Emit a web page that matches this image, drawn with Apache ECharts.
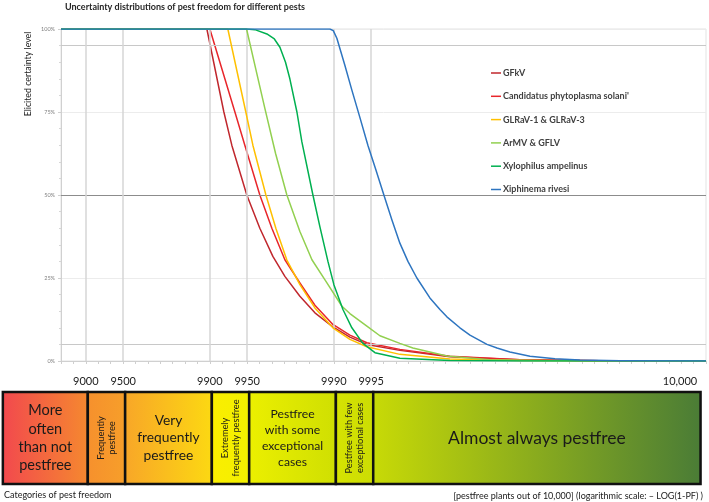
<!DOCTYPE html>
<html>
<head>
<meta charset="utf-8">
<script src="https://cdn.jsdelivr.net/npm/echarts@6/dist/echarts.min.js"></script>
<style>
html,body{margin:0;padding:0;background:#fff;}
#main{width:709px;height:502px;}
</style>
</head>
<body>
<div id="main"></div>
<script>
// x = -LOG10(1-PF), y = elicited certainty level (%)
var seriesNames = ['GFkV', "Candidatus phytoplasma solani'", 'GLRaV-1 & GLRaV-3', 'ArMV & GFLV', 'Xylophilus ampelinus', 'Xiphinema rivesi'];
var seriesColors = ['#c0272d', '#e8262b', '#ffc000', '#92d050', '#00b050', '#2e75c0'];

var gfkv = [[0.8,100],[1.976,100],[2.113,75],[2.177,65],[2.298,50],[2.403,40],[2.508,31.5],[2.605,25.5],[2.726,19.5],[2.847,14.5],[2.992,10.3],[3.129,7.2],[3.266,5],[3.532,3.2],[3.935,1.3],[4.5,0.4],[5.145,0.1],[6,0]];
var candidatus = [[0.8,100],[2.0,100],[2.202,75],[2.282,65],[2.403,50],[2.5,40],[2.605,30.5],[2.726,23.5],[2.847,16.8],[2.992,11],[3.129,7.8],[3.266,5.5],[3.532,3.5],[3.935,1.4],[4.5,0.4],[5.145,0.1],[6,0]];
var glrav = [[0.8,100],[2.145,100],[2.29,75],[2.347,65],[2.452,50],[2.532,40],[2.621,30.4],[2.726,23],[2.847,16],[2.992,10],[3.129,6.5],[3.266,4.3],[3.532,2],[3.935,0.6],[4.5,0.15],[5.145,0.05],[6,0]];
var armv = [[0.8,100],[2.296,100],[2.37,88],[2.444,76],[2.53,62.5],[2.621,50],[2.726,39],[2.823,30.5],[2.927,24.5],[3.065,16.5],[3.129,14.3],[3.266,10.5],[3.371,7.6],[3.532,5.3],[3.637,3.9],[3.911,1.5],[4.258,0.4],[4.782,0.1],[6,0]];
var xylophilus = [[0.8,100],[2.298,100],[2.363,99.8],[2.46,98.5],[2.52,97],[2.565,94.5],[2.61,90],[2.645,85],[2.702,75],[2.742,66],[2.831,50],[2.887,40.5],[2.952,30],[3.0,23],[3.073,15.5],[3.145,10],[3.234,5.3],[3.331,2.5],[3.532,0.8],[3.935,0.15],[4.5,0.02],[6,0]];
var xiphinema = [[0.8,100],[2.968,100],[2.995,99.5],[3.024,97.2],[3.089,89],[3.145,81.6],[3.21,73.3],[3.274,65],[3.339,57.5],[3.403,50],[3.468,42.5],[3.532,35.5],[3.597,30],[3.669,25],[3.774,19],[3.855,15.5],[3.911,13.3],[4.016,10],[4.097,7.8],[4.234,5],[4.315,3.9],[4.419,2.7],[4.581,1.4],[4.782,0.65],[4.984,0.3],[5.306,0.1],[6,0]];

var tickPF = [9000, 9500, 9900, 9950, 9990, 9995];
var tickLabels = ['9000', '9500', '9900', '9950', '9990', '9995', '10,000'];
var lastLabelPos = 5.79; // where "10,000" stands
var refLevels = [95, 50, 5];

var categoryNames = ['More\noften\nthan not\npestfree', 'Frequently\npestfree', 'Very\nfrequently\npestfree', 'Extremely\nfrequently pestfree', 'Pestfree\nwith some\nexceptional\ncases', 'Pestfree with few\nexceptional cases', 'Almost always pestfree'];
var categoryEdges = [0.315, 1, 1.30103, 2, 2.30103, 3, 3.30103, 5.94];
var categoryColors = [['#f2484e','#f5892f'],['#f6902d','#f79f2a'],['#f8a628','#fcd912'],['#fbee00','#f2f000'],['#ecef00','#cfdf02'],['#d6e302','#cbdc04'],['#c8da06','#4a7c36']];

var tickPos = tickPF.map(function (pf) { return -Math.log10(1 - pf / 10000); });
var labelPos = tickPos.concat([lastLabelPos]);

var boxFont = [
  {size: 14.5, lh: 18.3, rot: false},
  {size: 9.3, lh: 10.5, rot: true},
  {size: 13.8, lh: 17.7, rot: false},
  {size: 9.2, lh: 11.3, rot: true},
  {size: 12.2, lh: 16, rot: false},
  {size: 9.2, lh: 11.7, rot: true},
  {size: 17.5, lh: 20, rot: false}
];

var boxData = [];
for (var i = 0; i < categoryNames.length; i++) {
  boxData.push([categoryEdges[i], categoryEdges[i + 1]]);
}

var chart = echarts.init(document.getElementById('main'));
var FF = 'Lato, "Open Sans", sans-serif';

var lineSeries = [gfkv, candidatus, glrav, armv, xylophilus, xiphinema].map(function (d, k) {
  return {
    name: seriesNames[k],
    type: 'line',
    xAxisIndex: 0,
    yAxisIndex: 0,
    data: d,
    symbol: 'none',
    smooth: false,
    z: 3 + k,
    lineStyle: {color: seriesColors[k], width: 1.5, join: 'round'},
    itemStyle: {color: seriesColors[k]}
  };
});

var refMarks = refLevels.map(function (v) {
  return {yAxis: v, lineStyle: {color: v === 50 ? '#8c8c8c' : '#c8c8c8', width: 1.2, type: 'solid'}};
}).concat(tickPos.map(function (v) {
  return {xAxis: v, lineStyle: {color: '#d6d6d6', width: 1.5, type: 'solid'}};
}));

var option = {
  animation: false,
  textStyle: {fontFamily: FF},
  grid: [
    {left: 61, right: 3, top: 29, height: 332, show: true, borderColor: '#e3e3e3', borderWidth: 1},
    {left: 61, right: 3, top: 392, height: 92}
  ],
  xAxis: [
    {
      type: 'value', gridIndex: 0, min: 0.8, max: 6, interval: 0.1,
      axisLine: {lineStyle: {color: '#d0d0d0'}},
      axisTick: {show: true, length: 3, lineStyle: {color: '#cfcfcf'}},
      splitLine: {show: false},
      axisLabel: {
        customValues: labelPos,
        margin: 15,
        fontSize: 11,
        fontFamily: FF,
        color: '#1a1a1a',
        formatter: function (v) {
          var best = 0;
          for (var j = 1; j < labelPos.length; j++) {
            if (Math.abs(labelPos[j] - v) < Math.abs(labelPos[best] - v)) best = j;
          }
          return tickLabels[best];
        }
      }
    },
    {type: 'value', gridIndex: 1, min: 0.8, max: 6, show: false}
  ],
  yAxis: [
    {
      type: 'value', gridIndex: 0, min: 0, max: 100, interval: 25,
      axisLine: {show: true, lineStyle: {color: '#d0d0d0'}},
      axisTick: {show: true, length: 3, lineStyle: {color: '#cfcfcf'}},
      minorTick: {show: true, splitNumber: 5, length: 2, lineStyle: {color: '#d6d6d6'}},
      splitLine: {lineStyle: {color: '#ececec'}},
      axisLabel: {formatter: '{value}%', fontSize: 5.5, color: '#808080', margin: 6}
    },
    {type: 'value', gridIndex: 1, min: 0, max: 1, show: false}
  ],
  legend: {
    orient: 'vertical', left: 486, top: 62,
    icon: 'rect', itemWidth: 10, itemHeight: 1.5, itemGap: 11.3,
    data: seriesNames,
    textStyle: {fontFamily: FF, fontWeight: 'bold', fontSize: 9, color: '#404040', lineHeight: 12, padding: [0, 0, 0, -3]}
  },
  graphic: [
    {type: 'text', x: 65, y: 7, style: {text: 'Uncertainty distributions of pest freedom for different pests', font: 'bold 9px ' + FF, fill: '#262626', verticalAlign: 'middle'}},
    {type: 'text', x: 28.5, y: 74, rotation: Math.PI / 2, style: {text: 'Elicited certainty level', font: '8.8px ' + FF, fill: '#1a1a1a', align: 'center', verticalAlign: 'middle'}},
    {type: 'text', x: 4, y: 495, style: {text: 'Categories of pest freedom', font: '9px ' + FF, fill: '#1a1a1a', verticalAlign: 'middle'}},
    {type: 'text', x: 703, y: 496, style: {text: '[pestfree plants out of 10,000] (logarithmic scale: \u2013 LOG(1-PF) )', font: '9px ' + FF, fill: '#1a1a1a', align: 'right', verticalAlign: 'middle'}}
  ],
  series: [
    {
      name: 'ref', type: 'line', data: [], z: 1,
      markLine: {silent: true, symbol: ['none', 'none'], label: {show: false}, data: refMarks}
    }
  ].concat(lineSeries).concat([
    {
      name: 'categories', type: 'custom', xAxisIndex: 1, yAxisIndex: 1,
      data: boxData, encode: {x: [0, 1]}, clip: false,
      renderItem: function (params, api) {
        var i = params.dataIndex;
        var a = api.coord([api.value(0), 1]);
        var b = api.coord([api.value(1), 0]);
        var x = a[0] + 2, y = a[1], w = b[0] - a[0], h = b[1] - a[1];
        var f = boxFont[i];
        return {
          type: 'group',
          children: [
            {type: 'rect', shape: {x: x, y: y, width: w, height: h},
             style: {fill: new echarts.graphic.LinearGradient(0, 0, 1, 0, [{offset: 0, color: categoryColors[i][0]}, {offset: 1, color: categoryColors[i][1]}]),
                     stroke: '#111', lineWidth: 2.5}},
            {type: 'text', x: x + w / 2, y: y + h / 2, rotation: f.rot ? Math.PI / 2 : 0,
             style: {text: categoryNames[i], fill: '#1a1a1a', fontSize: f.size, fontFamily: 'Lato', lineHeight: f.lh, align: 'center', verticalAlign: 'middle'}}
          ]
        };
      }
    }
  ])
};
chart.setOption(option);
</script>
</body>
</html>
